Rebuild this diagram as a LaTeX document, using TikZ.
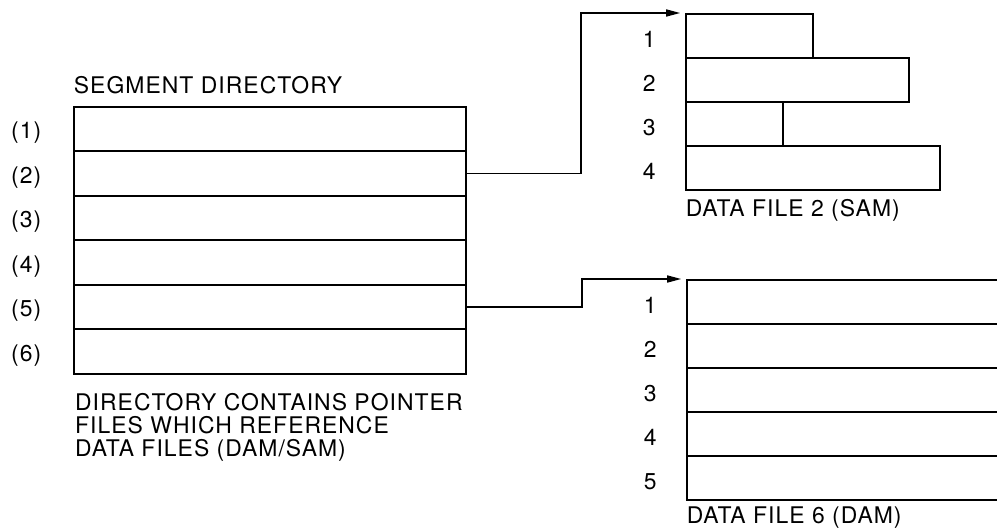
\documentclass[tikz,border=0pt]{standalone}
\usepackage{fontspec}
\setmainfont{TeX Gyre Heros}[LetterSpace=4.5]
\usepackage{tikz}
\usetikzlibrary{arrows.meta, positioning}

\begin{document}
\begin{tikzpicture}[
  x=0.025cm, y=-0.025cm,
  every node/.style={font=\fontsize{16.3}{16.4}\selectfont},
  line width=1.1pt,
  dirrow/.style={draw, minimum width=9.8cm, minimum height=1.1125cm, inner sep=0pt},
  samrow/.style={draw, anchor=north west, minimum height=1.1cm, inner sep=0pt},
  damrow/.style={draw, anchor=north west, minimum width=8.5cm, minimum height=1.1cm, inner sep=0pt},
  rowlbl/.style={yshift=-0.09cm},
  caption/.style={inner sep=0pt, align=left},
  pointer/.style={-{Triangle[length=10pt,width=5pt]}, shorten >=0.12cm}
]
  \useasboundingbox (0,0) rectangle (997,531);

  % segment directory
  \foreach \i in {1,...,6} {
    \node[dirrow] (d\i) at (270,{84.5+44.5*\i}) {};
    \node[rowlbl, left=0.66cm of d\i] {(\i)};
  }
  \node[caption, anchor=south west] (dirtitle) at ([yshift=0.27cm]d1.north west) {SEGMENT DIRECTORY};
  \node[caption, anchor=north west] (dircap) at ([xshift=0.03cm, yshift=-0.44cm]d6.south west)
    {DIRECTORY CONTAINS POINTER\\FILES WHICH REFERENCE\\DATA FILES (DAM/SAM)};

  % data file 2 (SAM), records of varying length
  \foreach \i/\w in {1/127, 2/223, 3/97, 4/254} {
    \node[samrow, minimum width=0.025cm*\w] (s\i) at (685,{13+44*(\i-1)}) {};
    \node[rowlbl, left=0.6cm of s\i.west] {\i};
  }
  \node[caption, anchor=north west] (samcap) at ([yshift=-0.2cm]s4.south west) {DATA FILE 2 (SAM)};

  % data file 6 (DAM), fixed length records
  \foreach \i in {1,...,5} {
    \node[damrow] (m\i) at (686,{279+44*(\i-1)}) {};
    \node[rowlbl, left=0.6cm of m\i.west] {\i};
  }
  \node[caption, anchor=north west] (damcap) at ([yshift=-0.14cm]m5.south west) {DATA FILE 6 (DAM)};

  % pointers
  \draw[pointer] (d2.east) -- ++(114,0) |- (s1.north west);
  \draw[pointer] (d5.east) -- ++(115,0) |- (m1.north west);
\end{tikzpicture}
\end{document}
